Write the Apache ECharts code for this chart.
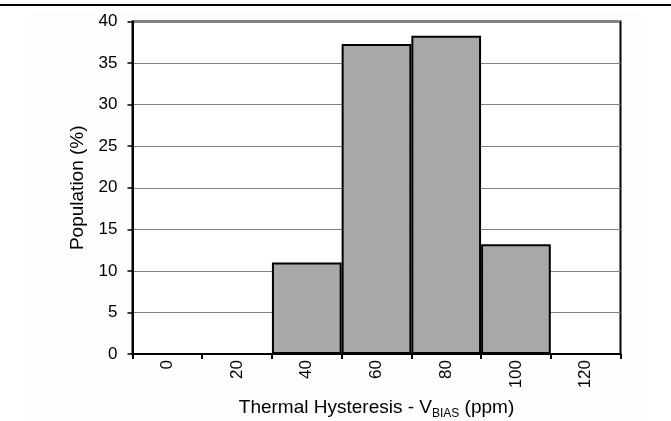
<!DOCTYPE html>
<html>
<head>
<meta charset="utf-8">
<script src="https://cdn.jsdelivr.net/npm/echarts@6/dist/echarts.min.js"></script>
<style>
html,body{margin:0;padding:0;background:#fff;}
#c{width:671px;height:421px;}
</style>
</head>
<body>
<div id="c"></div>
<script>
var categories = ['0', '20', '40', '60', '80', '100', '120'];
var population = [0, 0, 11.0, 37.3, 38.3, 13.2, 0];
var yMin = 0, yMax = 40, yInterval = 5;

var chart = echarts.init(document.getElementById('c'), null, {renderer: 'canvas'});
var font = 'Liberation Sans, Arial, sans-serif';
chart.setOption({
  animation: false,
  backgroundColor: '#ffffff',
  graphic: [
    {type: 'rect', z: -10, shape: {x: 30, y: 13, width: 612, height: 408}, style: {fill: '#fdfdfd'}},
    {type: 'line', shape: {x1: 0, y1: 5, x2: 671, y2: 5}, style: {stroke: '#000', lineWidth: 2}}
  ],
  grid: {
    left: 132.5, right: 50.5, top: 21.5, bottom: 67,
    containLabel: false, outerBoundsMode: 'none',
    show: true, borderColor: '#000', borderWidth: 2, backgroundColor: '#ffffff'
  },
  xAxis: {
    type: 'category',
    data: categories,
    boundaryGap: true,
    axisLine: {lineStyle: {color: '#000', width: 2}},
    axisTick: {show: true, length: 5, lineStyle: {color: '#000', width: 2}},
    axisLabel: {rotate: 90, margin: 6, color: '#000', fontFamily: font, fontSize: 17},
    name: '{m|Thermal Hysteresis - V}{s|BIAS}{m| (ppm)}',
    nameLocation: 'middle',
    nameGap: 42,
    nameTextStyle: {
      color: '#000', fontFamily: font, fontSize: 19,
      rich: {
        m: {fontFamily: font, fontSize: 19, color: '#000', lineHeight: 24, verticalAlign: 'middle'},
        s: {fontFamily: font, fontSize: 12, color: '#000', lineHeight: 24, verticalAlign: 'bottom'}
      }
    }
  },
  yAxis: {
    type: 'value',
    min: yMin, max: yMax, interval: yInterval,
    axisLine: {show: true, lineStyle: {color: '#000', width: 2}},
    axisTick: {show: true, length: 5, lineStyle: {color: '#000', width: 1.5}},
    axisLabel: {margin: 15, color: '#000', fontFamily: font, fontSize: 17},
    splitLine: {show: true, lineStyle: {color: '#808080', width: 1}},
    name: 'Population (%)',
    nameLocation: 'middle',
    nameGap: 40,
    nameTextStyle: {color: '#000', fontFamily: font, fontSize: 19}
  },
  series: [{
    type: 'bar',
    data: population,
    barCategoryGap: '0%',
    itemStyle: {color: '#a8a8a8', borderColor: '#000', borderWidth: 2}
  }]
});
</script>
</body>
</html>
